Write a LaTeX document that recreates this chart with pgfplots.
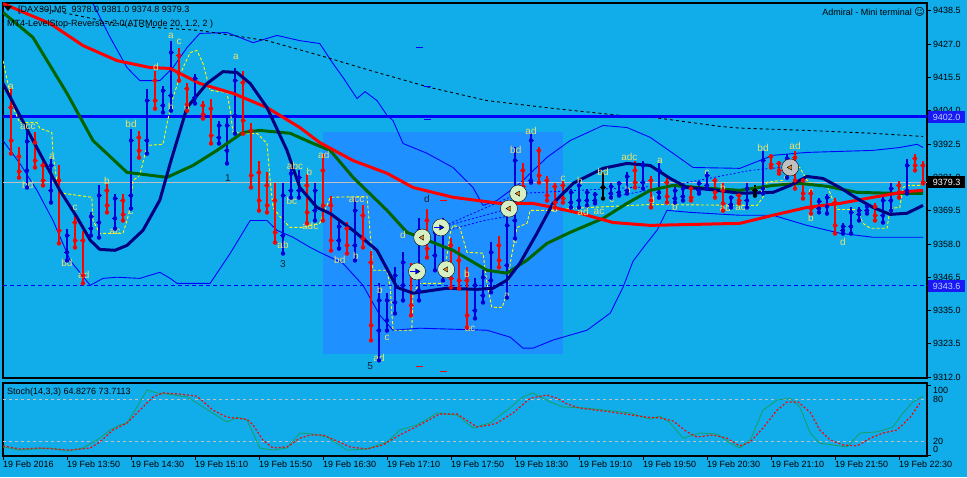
\documentclass[border=0pt]{standalone}
\usepackage{pgfplots}
\pgfplotsset{compat=1.18}
\usepackage{pgfplotstable}
\usepackage{fontspec}
\setmainfont{Liberation Sans}
\newfontfamily\djv{DejaVu Sans}

\definecolor{bg}{RGB}{17,173,234}
\definecolor{hbox}{RGB}{30,144,255}
\definecolor{barred}{RGB}{255,0,0}
\definecolor{barblue}{RGB}{0,0,215}
\definecolor{magreen}{RGB}{0,100,0}
\definecolor{manavy}{RGB}{0,0,128}
\definecolor{bband}{RGB}{0,0,255}
\definecolor{lsr}{RGB}{255,255,0}
\definecolor{ltr}{RGB}{236,226,110}
\definecolor{stg}{RGB}{20,160,110}
\definecolor{circ}{RGB}{214,240,196}
\definecolor{arr}{RGB}{225,140,35}
\definecolor{silv}{RGB}{192,192,192}
\definecolor{darktxt}{RGB}{20,30,50}
\definecolor{pbox}{RGB}{25,25,245}
\definecolor{pboxtxt}{RGB}{190,210,255}

\pgfplotstableread{
x o h l c
1 9405.1 9412.0 9389.2 9393.7
2 9388.2 9391.3 9380.9 9383.0
4 9393.0 9396.5 9384.4 9386.8
5 9385.1 9386.8 9378.2 9379.9
7 9379.9 9385.1 9358.2 9362.6
9 9365.4 9368.5 9356.8 9359.2
10 9359.2 9362.6 9344.4 9347.1
13 9376.4 9378.9 9368.9 9371.3
15 9373.0 9375.4 9366.1 9368.2
17 9394.7 9397.1 9387.8 9390.2
19 9414.4 9417.8 9404.7 9407.5
22 9423.0 9425.8 9414.4 9416.8
23 9411.6 9413.7 9404.0 9406.1
25 9405.8 9407.5 9401.3 9402.7
26 9404.7 9408.2 9392.7 9395.4
30 9413.7 9417.8 9396.1 9400.6
31 9397.1 9399.9 9377.5 9381.6
32 9382.7 9386.8 9369.5 9373.0
33 9378.2 9382.7 9368.9 9371.3
34 9373.0 9378.9 9358.5 9362.0
38 9378.2 9382.3 9365.1 9368.9
40 9383.4 9389.2 9366.1 9371.3
41 9371.3 9374.7 9355.7 9359.2
43 9363.3 9365.4 9354.7 9357.5
45 9367.8 9371.3 9356.8 9359.9
46 9351.6 9355.7 9324.7 9329.9
51 9348.8 9351.3 9333.3 9336.8
53 9366.1 9370.2 9353.3 9356.4
56 9357.5 9359.9 9343.0 9346.1
57 9352.3 9356.8 9342.6 9345.4
58 9345.4 9349.9 9329.2 9333.3
62 9357.5 9360.9 9349.9 9352.3
65 9383.4 9386.1 9375.4 9377.8
67 9390.2 9391.3 9379.2 9381.6
68 9379.9 9381.6 9373.0 9374.7
69 9377.8 9379.2 9370.6 9372.3
70 9378.2 9379.9 9372.3 9373.7
79 9383.4 9386.8 9377.5 9379.2
81 9379.9 9381.6 9370.6 9373.0
83 9379.2 9380.6 9372.3 9374.4
86 9377.1 9378.2 9373.0 9374.0
89 9379.9 9380.6 9374.0 9375.8
90 9376.4 9378.9 9369.5 9372.0
92 9374.7 9376.4 9372.0 9373.0
96 9388.2 9389.2 9384.4 9385.4
97 9385.8 9386.8 9382.3 9383.4
99 9387.8 9390.2 9377.1 9379.9
100 9379.9 9380.9 9373.7 9375.4
101 9375.4 9377.1 9368.5 9370.2
104 9372.3 9373.7 9361.6 9364.4
109 9370.9 9372.3 9366.1 9367.8
112 9378.2 9379.9 9374.0 9375.8
114 9387.5 9389.2 9383.4 9385.1
115 9385.1 9386.8 9378.9 9379.3
}\redbars

\pgfplotstableread{
x o h l c
3 9383.3 9397.1 9377.5 9393.4
6 9376.4 9387.8 9372.3 9385.1
8 9355.1 9363.3 9352.3 9360.9
11 9363.3 9368.9 9360.9 9367.5
12 9365.4 9378.2 9360.2 9374.7
14 9366.8 9375.4 9363.3 9373.7
16 9374.7 9397.8 9370.2 9393.7
18 9393.7 9411.6 9389.2 9407.5
20 9405.8 9412.7 9403.4 9410.9
21 9409.2 9428.2 9404.0 9424.1
24 9408.5 9416.8 9406.5 9415.1
27 9394.7 9400.6 9392.7 9398.9
28 9390.2 9402.3 9385.8 9398.9
29 9402.3 9418.9 9396.1 9414.4
35 9360.9 9378.9 9354.7 9374.7
36 9376.4 9384.4 9374.0 9382.3
37 9376.4 9383.4 9374.0 9380.9
39 9369.5 9378.9 9366.1 9376.4
42 9359.2 9366.1 9356.4 9364.0
44 9357.5 9374.0 9352.3 9369.5
47 9328.1 9344.4 9317.8 9338.5
48 9331.6 9340.9 9328.1 9338.5
49 9337.8 9349.9 9334.0 9347.1
50 9343.7 9355.1 9338.5 9351.6
52 9341.9 9366.8 9338.5 9362.6
54 9354.0 9363.7 9348.9 9362.0
55 9350.6 9367.1 9345.4 9362.6
59 9335.0 9346.4 9332.3 9343.7
60 9340.2 9348.9 9337.8 9346.4
61 9345.4 9358.5 9341.3 9355.1
63 9350.6 9367.8 9339.5 9364.4
64 9366.1 9391.3 9359.9 9386.8
66 9379.9 9396.1 9379.2 9393.7
71 9372.3 9377.1 9370.6 9375.8
72 9373.0 9379.9 9370.6 9378.2
73 9373.0 9377.1 9371.3 9375.8
74 9373.0 9375.8 9372.0 9375.1
76 9375.4 9378.9 9374.0 9377.8
77 9375.8 9379.9 9374.7 9378.9
78 9376.4 9382.7 9375.4 9381.3
80 9379.2 9386.8 9377.1 9385.1
82 9375.8 9386.1 9374.0 9383.4
84 9373.7 9377.5 9372.3 9376.4
85 9374.4 9378.2 9373.0 9377.1
87 9376.4 9379.9 9375.4 9378.9
88 9378.2 9382.7 9377.1 9381.6
91 9371.6 9374.7 9370.6 9374.0
93 9373.0 9378.9 9370.6 9377.1
95 9377.1 9390.2 9375.4 9386.8
98 9383.4 9389.2 9380.9 9387.5
102 9370.2 9373.7 9368.9 9372.7
103 9370.9 9375.4 9368.5 9374.0
105 9362.7 9365.1 9361.6 9364.0
106 9364.0 9370.6 9361.6 9368.9
107 9368.2 9370.6 9366.1 9369.5
108 9369.5 9372.0 9368.5 9370.9
110 9367.8 9374.7 9365.4 9373.0
111 9373.0 9378.9 9369.5 9377.1
113 9376.4 9387.5 9375.4 9385.1
}\bluebars

\pgfplotstableread{
x o h l c
75 9377.5 9382.7 9373.7 9377.5
94 9376.4 9378.2 9374.7 9376.4
}\blackbars

\newcommand{\ohlc}[2]{%
\addplot[only marks, mark=none, color=#2, forget plot, error bars/.cd, y dir=plus, y explicit, error mark=none, error bar style={draw=#2, line width=1.2pt}] table[x=x, y=l, y error expr=\thisrow{h}-\thisrow{l}] {#1};
\addplot[only marks, mark=none, color=#2, forget plot, error bars/.cd, x dir=minus, x fixed=0.4, error mark=none, error bar style={draw=#2, line width=1.2pt}] table[x=x, y=o] {#1};
\addplot[only marks, mark=none, color=#2, forget plot, error bars/.cd, x dir=plus, x fixed=0.4, error mark=none, error bar style={draw=#2, line width=1.2pt}] table[x=x, y=c] {#1};
}
\newcommand{\lbl}[3]{\node[text=ltr, font=\fontsize{10}{10}\selectfont, inner sep=0pt] at (axis cs:#1,#2) {#3};}
\newcommand{\dlbl}[3]{\node[text=darktxt, font=\fontsize{10}{10}\selectfont, inner sep=0pt] at (axis cs:#1,#2) {#3};}

\begin{document}
\begin{tikzpicture}[x=1pt,y=1pt]
\fill[bg] (0,0) rectangle (967,477);
\useasboundingbox (0,0) rectangle (967,477);

% ---------------- main price panel ----------------
\begin{axis}[
  at={(3pt,99pt)}, anchor=south west, scale only axis,
  width=924pt, height=375pt,
  xmin=0, xmax=115.5, ymin=9311.7, ymax=9441.2,
  axis line style={black, line width=1.2pt},
  xtick=\empty,
  ytick={9312.0,9323.5,9335.0,9346.5,9358.0,9369.5,9381.0,9392.5,9404.0,9415.5,9427.0,9438.5},
  ytick pos=right, yticklabel pos=right,
  tick align=outside, major tick length=4pt,
  tick style={black, line width=0.8pt},
  yticklabel style={font=\fontsize{9}{10}\selectfont, text=black, inner sep=2pt,
    /pgf/number format/.cd, fixed, fixed zerofill, precision=1, 1000 sep={}, assume math mode=true},
  every axis plot/.append style={line join=round},
]
% highlighted region
\fill[hbox] (axis cs:40,9396.5) rectangle (axis cs:70,9320.1);

% Bollinger bands
\addplot[bband, line width=0.9pt] coordinates {
(11.25,9441.0) (13.4,9429.3) (15.5,9418.9) (17.1,9414.4) (19.6,9414.4) (21.25,9418.9) (23,9425.8) (24.6,9430.7) (28,9431.0) (29.6,9429.3) (31.25,9427.5) (34.25,9430.0) (37.1,9428.2) (39.6,9427.2) (41.25,9420.3) (42.5,9415.5) (44.25,9408.2) (45.25,9410.6) (46.75,9407.5) (48,9402.4) (48.75,9400.6) (50,9392.7) (53,9389.3) (56.25,9384.4) (58.75,9377.5) (60,9371.3) (61.75,9373.0) (64.6,9378.9) (68,9387.9) (70.9,9393.7) (75,9398.9) (78,9398.2) (80.9,9394.8) (83.75,9389.3) (86.25,9384.4) (92.1,9384.1) (96.25,9388.6) (100.5,9389.6) (108.75,9390.3) (112.1,9391.3) (114.25,9392.4) (115,9391.3)};
\addplot[bband, line width=0.9pt] coordinates {
(0,9393.7) (2.1,9385.8) (4.25,9376.5) (6.25,9366.1) (8.4,9352.3) (10.9,9343.7) (12.5,9346.1) (14.25,9346.5) (17.1,9346.1) (19.6,9348.2) (20.9,9346.1) (21.75,9344.4) (25.9,9344.4) (28.4,9354.75) (30.9,9366.1) (33,9366.1) (34.25,9362.7) (36.25,9360.3) (38.4,9356.8) (39.6,9355.1) (42.5,9351.3) (45,9343.7) (47.1,9333.4) (48.75,9328.2) (52.1,9328.9) (60.5,9328.2) (63.4,9325.8) (65,9322.0) (66.25,9322.0) (68.75,9324.8) (73,9328.2) (75.9,9334.1) (77.5,9343.0) (78.75,9352.0) (80.25,9357.5) (81.75,9362.7) (83,9369.6) (85.9,9368.9) (92.1,9367.9) (96.25,9367.9) (100.5,9364.4) (104.6,9361.7) (108.75,9360.3) (115,9360.3)};

% long moving average (black dashed)
\addplot[black, line width=0.9pt, dash pattern=on 3pt off 3pt] coordinates {
(4.6,9439.3) (8,9437.6) (15.5,9433.4) (24.6,9431.7) (33,9428.2) (39.6,9423.1) (45.9,9417.9) (53.4,9412.0) (60.5,9407.5) (68.75,9404.8) (77.1,9402.4) (81.25,9401.7) (89.6,9398.6) (92.1,9398.0) (100.5,9397.2) (108.75,9396.2) (115,9395.1)};

% horizontal levels
\addplot[silv, line width=1pt] coordinates {(0,9379.3) (115.5,9379.3)};
\addplot[bband, line width=2.6pt] coordinates {(0,9402.0) (115.5,9402.0)};
\addplot[bband, line width=1pt, dash pattern=on 4pt off 3pt] coordinates {(0,9343.6) (115.5,9343.6)};

% LevelStop-Reverse line (yellow dashed)
\addplot[lsr, line width=0.9pt, dash pattern=on 3pt off 2pt] coordinates {
(0,9421.3) (1.25,9405.1) (2.1,9399.9) (4.25,9399.9) (4.6,9397.9) (6.1,9396.5) (6.25,9389.3) (6.9,9376.5) (7.5,9375.5) (9.25,9374.8) (11.1,9374.1) (11.25,9366.1) (12.1,9361.65) (15,9361.65) (15.5,9366.1) (15.9,9370.6) (16.25,9379.9) (17.1,9381.7) (18,9392.0) (20,9392.4) (20.5,9399.6) (21.25,9408.6) (22.5,9418.9) (23.4,9424.1) (24.25,9424.8) (25,9420.3) (25.9,9411.0) (28,9410.3) (28.4,9404.1) (28.75,9396.5) (30.5,9396.2) (31.75,9396.2) (33,9392.7) (33.4,9380.0) (33.75,9370.6) (35,9366.1) (35.9,9363.7) (37.5,9363.7) (39.6,9365.1) (40.9,9374.1) (45.5,9374.4) (45.9,9361.65) (46.25,9348.9) (48,9348.9) (48.4,9343.0) (48.75,9328.2) (51.1,9328.2) (51.25,9341.0) (52.1,9344.4) (55,9344.4) (55.9,9361.65) (56.25,9364.4) (57.1,9363.7) (58,9355.1) (60,9354.8) (60.5,9344.4) (61.1,9336.1) (62.4,9336.1) (63,9341.0) (63.4,9351.3) (64.25,9363.7) (65.5,9365.1) (65.9,9369.6) (68.75,9369.6) (71.25,9370.3) (80.9,9371.6) (94.25,9371.3) (95,9374.1) (95.5,9379.3) (97.5,9380.0) (98.4,9384.4) (99.6,9384.4) (100.5,9380.0) (101.25,9378.2) (103,9378.2) (103.75,9373.0) (104.25,9369.9) (106.75,9369.9) (107.5,9365.1) (108.4,9363.4) (110.5,9363.4) (110.9,9370.3) (112.1,9370.6) (112.5,9377.5) (113,9378.2) (115,9378.2)};

% OHLC bars
\ohlc{\redbars}{barred}
\ohlc{\bluebars}{barblue}
\ohlc{\blackbars}{black}

% connecting dashed lines
\addplot[bband, line width=0.8pt, dash pattern=on 2pt off 2pt] coordinates {(54.75,9363.7) (63.25,9370.2)};
\addplot[bband, line width=0.8pt, dash pattern=on 2pt off 2pt] coordinates {(54.75,9363.7) (64.4,9375.4)};
\addplot[bband, line width=0.8pt, dash pattern=on 2pt off 2pt] coordinates {(54.75,9362.0) (60.0,9366.0) (64.0,9368.0)};
\addplot[bband, line width=0.8pt, dash pattern=on 2pt off 2pt] coordinates {(64.4,9375.4) (80.9,9377.8)};
\addplot[bband, line width=0.8pt, dash pattern=on 2pt off 2pt] coordinates {(77.1,9374.7) (93.4,9383.4) (98.4,9384.7)};

% moving averages
\addplot[magreen, line width=3pt] coordinates {
(0,9437.9) (3.75,9429.3) (8,9410.0) (11.25,9393.7) (15.5,9382.7) (20.5,9381.0) (23.75,9385.1) (26.75,9390.3) (30,9396.5) (32.1,9397.2) (35.9,9396.2) (38.75,9392.7) (40.9,9390.3) (43.75,9381.0) (48,9369.6) (50.5,9362.0) (53.75,9358.5) (56.25,9355.8) (60.5,9348.9) (63,9347.9) (65.5,9352.4) (68,9358.2) (70.9,9362.0) (75,9366.8) (78,9372.0) (80.9,9376.5) (83.75,9378.2) (88,9377.2) (92.1,9376.5) (96.25,9378.2) (99.6,9378.9) (103,9377.9) (106.75,9375.8) (110.9,9375.5) (115,9375.5)};
\addplot[barred, line width=3pt] coordinates {
(0,9441.0) (5.9,9434.1) (10,9426.5) (14.25,9421.3) (18.4,9418.9) (20.9,9418.6) (24.6,9413.4) (28.75,9410.0) (33,9405.1) (37.1,9398.2) (39.6,9393.0) (43.75,9386.8) (48,9382.4) (51.25,9377.5) (56.25,9374.1) (62.1,9372.0) (66.25,9372.0) (68.75,9370.6) (72.1,9368.6) (76.25,9365.4) (80.9,9364.4) (92.1,9365.1) (96.25,9367.9) (100.5,9370.6) (104.6,9372.0) (108.75,9374.1) (113,9376.1) (115,9376.5)};
\addplot[manavy, line width=3pt] coordinates {
(0,9413.4) (3.75,9393.7) (7.1,9376.5) (9.25,9367.2) (10.9,9359.3) (12.1,9356.1) (14,9355.8) (15.5,9357.5) (17.5,9362.7) (19.6,9373.1) (20.9,9385.8) (23,9405.1) (25.5,9413.4) (27.5,9417.5) (29.25,9417.2) (30.9,9413.4) (33,9405.1) (35.5,9390.3) (37.1,9377.5) (39.25,9370.6) (40.9,9368.5) (43.75,9362.7) (46.75,9355.8) (49.25,9343.0) (51.25,9341.0) (55.5,9342.7) (59.25,9342.3) (61.25,9342.7) (63,9345.5) (64.6,9351.3) (66.75,9361.7) (68.75,9372.0) (71.25,9378.9) (75,9384.1) (78,9385.8) (80.9,9385.1) (83.4,9380.6) (85.5,9377.5) (88.4,9376.8) (92.1,9375.5) (96.25,9375.8) (98.4,9378.2) (100.5,9381.3) (102.5,9380.6) (104.6,9377.5) (106.75,9373.7) (108.75,9370.6) (110.9,9368.2) (113,9368.6) (115,9371.3)};

% signal circles
\addplot[only marks, mark=*, mark size=8.5pt, mark options={draw=none, fill=circ}] coordinates {
(52.4,9360.2) (54.75,9363.7) (51.75,9348.5) (55.4,9349.2) (64.4,9375.4) (63.25,9370.2)};
\addplot[only marks, mark=*, mark size=8.5pt, mark options={draw=none, fill=silv}] coordinates {(98.4,9384.4)};
\addplot[only marks, mark=triangle*, mark size=3pt, mark options={draw=none, fill=arr, rotate=90}] coordinates {
(52.4,9360.2) (55.4,9349.2) (64.4,9375.4) (63.25,9370.2) (98.4,9384.4)};
\addplot[only marks, mark=triangle*, mark size=3pt, mark options={draw=none, fill=bband, rotate=-90}] coordinates {
(54.75,9363.7) (51.75,9348.5)};
\addplot[only marks, mark=-, mark size=3pt, mark options={bband, line width=1.2pt}] coordinates {
(54.3,9363.7) (51.3,9348.5)};

% small level dashes
\addplot[only marks, mark=-, mark size=3.5pt, mark options={bband, line width=1.2pt}] coordinates {
(52.1,9425.8) (53.1,9412.3) (53.1,9401.0)};
\addplot[only marks, mark=-, mark size=3.5pt, mark options={barred, line width=1.2pt}] coordinates {
(52.0,9315.7) (55.1,9314.0) (55.0,9373.0)};

% pattern letters
\lbl{1}{9412.1}{a}
\lbl{3.1}{9398.3}{acc}
\lbl{3.1}{9378.5}{bd}
\lbl{6.1}{9388.2}{a}
\lbl{9}{9370.6}{c}
\lbl{8}{9351.5}{bd}
\lbl{10.1}{9347.4}{ad}
\lbl{13}{9379.9}{b}
\lbl{14}{9362.3}{ac}
\lbl{16}{9369.2}{c}
\lbl{16}{9399.6}{bd}
\lbl{19.1}{9419.0}{d}
\lbl{21}{9429.7}{a}
\lbl{22}{9427.7}{c}
\lbl{21}{9405.2}{b}
\lbl{23}{9405.2}{d}
\lbl{29.1}{9422.5}{a}
\lbl{40.1}{9388.9}{ad}
\lbl{36.5}{9384.8}{abc}
\lbl{38.3}{9383.0}{b}
\lbl{36.1}{9373.0}{bc}
\lbl{38.4}{9364.3}{adc}
\lbl{35}{9357.8}{ab}
\lbl{44.2}{9373.3}{acc}
\lbl{42.1}{9352.6}{bd}
\lbl{44.1}{9354.0}{b}
\lbl{47.1}{9342.2}{b}
\lbl{48}{9325.6}{c}
\lbl{47}{9318.7}{ad}
\lbl{50}{9361.2}{d}
\lbl{58}{9347.7}{b}
\lbl{58.4}{9328.7}{ac}
\lbl{63}{9340.1}{a}
\lbl{64}{9359.2}{c}
\lbl{64.1}{9390.6}{bd}
\lbl{66}{9396.9}{ad}
\lbl{70}{9380.3}{c}
\lbl{69}{9370.2}{b}
\lbl{72.5}{9369.2}{ad}
\lbl{74.5}{9369.2}{ac}
\lbl{72.1}{9379.6}{b}
\lbl{75}{9382.7}{bd}
\lbl{76.1}{9373.3}{c}
\lbl{78.3}{9387.9}{adc}
\lbl{78.1}{9376.8}{b}
\lbl{82.1}{9386.8}{a}
\lbl{81.1}{9373.3}{d}
\lbl{84}{9370.9}{b}
\lbl{88}{9382.7}{c}
\lbl{90}{9377.5}{b}
\lbl{90.3}{9370.6}{ad}
\lbl{92.2}{9370.6}{ac}
\lbl{95}{9391.3}{bd}
\lbl{95}{9376.1}{c}
\lbl{99}{9392.0}{ad}
\lbl{101}{9376.1}{c}
\lbl{101}{9367.1}{b}
\lbl{105}{9358.8}{d}
\dlbl{28.1}{9380.6}{1}
\dlbl{35}{9351.2}{3}
\dlbl{45.9}{9315.9}{5}
\dlbl{53}{9373.7}{d}
\end{axis}

% ---------------- stochastic panel ----------------
\begin{axis}[
  at={(3pt,21pt)}, anchor=south west, scale only axis,
  width=924pt, height=73pt,
  xmin=0, xmax=115.5, ymin=-1.43, ymax=102.86,
  axis line style={black, line width=1.2pt},
  xtick={0,8,16,24,32,40,48,56,64,72,80,88,96,104,112},
  xticklabels={19 Feb 2016, 19 Feb 13:50, 19 Feb 14:30, 19 Feb 15:10, 19 Feb 15:50, 19 Feb 16:30, 19 Feb 17:10, 19 Feb 17:50, 19 Feb 18:30, 19 Feb 19:10, 19 Feb 19:50, 19 Feb 20:30, 19 Feb 21:10, 19 Feb 21:50, 19 Feb 22:30},
  xtick pos=left, ytick pos=right,
  ytick={0,100}, yticklabels={},
  tick align=outside, major tick length=4pt,
  tick style={black, line width=0.8pt},
  xticklabel style={anchor=north west, inner sep=0pt, yshift=-1pt, font=\fontsize{9}{10}\selectfont, text=black},
  every axis plot/.append style={line join=round},
]
\addplot[silv, line width=0.8pt, dash pattern=on 3pt off 3pt] coordinates {(0,80) (115.5,80)};
\addplot[silv, line width=0.8pt, dash pattern=on 3pt off 3pt] coordinates {(0,20) (115.5,20)};
\addplot[stg, line width=0.9pt] coordinates {
(0,11.4) (2.1,7) (5.9,10) (8,5.7) (10,10) (11.75,21.4) (13.4,35.7) (14.6,43) (15.5,45.7) (16.75,68.6) (18,93) (19.25,88.6) (20.5,87) (23,83) (25,68.6) (28,47) (29.25,54) (30.5,50) (32.1,10) (33.75,7) (35.5,10) (37.1,31.4) (38.75,30) (40.5,25.7) (43,7) (45.5,8.6) (48,18.6) (49.6,35.7) (51.75,43) (54.25,60) (56.75,57) (58.75,38.6) (60.9,46) (63,64) (65,83) (66.25,88.6) (68.4,75.7) (70,68.6) (73,67) (78.4,60) (80.9,51) (82.1,55.7) (83.4,45.7) (85,24) (87.1,31.4) (89.25,30) (90.9,17) (92.1,10) (93.4,21.4) (95,64) (96.75,78.6) (98.4,81) (99.6,68.6) (100.9,31.4) (102.1,17) (103.75,14.3) (105.5,11.4) (107.1,31.4) (109.25,33) (111.25,40) (112.5,60) (113.75,75.7) (115,84)};
\addplot[barred, line width=1.2pt, dash pattern=on 2pt off 2pt] coordinates {
(0,12.9) (2.1,8.6) (4.6,10) (8.4,7) (10.9,10) (12.1,18.6) (13.75,35.7) (15.5,45.7) (17.1,64) (18.75,83) (20,88.6) (22.1,87) (24.25,84) (26.25,64) (28,54) (30.5,51) (31.25,43) (32.5,21) (33.75,10) (35.5,11.4) (37.1,24) (38.4,28.6) (40,28.6) (41.75,20) (43.4,11.4) (45.5,8.6) (47.5,14.3) (49.6,28.6) (52.1,43) (54.6,58.6) (56.75,58.6) (59.25,40) (60.9,43) (61.75,45.7) (63.75,60) (65.9,81) (68,85.7) (69.25,81) (70.5,73) (72.1,67) (76.25,61) (80.5,54) (82.1,53) (83.75,48.6) (85.5,33) (86.75,25.7) (88.75,28.6) (90.5,24) (92.1,12.9) (93.4,18.6) (95,38.6) (96.75,64) (98,75.7) (99.4,75.7) (100.9,61) (102.1,35.7) (103.4,21.4) (105,14.3) (106.75,12.9) (108.4,24) (110,31.4) (111.75,35.7) (113.4,54) (114.6,74)};
\end{axis}

% ---------------- texts ----------------
\fill[black] (4,471) -- (12,471) -- (8,466) -- cycle;
\node[anchor=west, inner sep=0pt, font=\fontsize{9}{10}\selectfont, text=black] at (18,467) {[DAX30],M5\ \ 9378.0 9381.0 9374.8 9379.3};
\node[anchor=west, inner sep=0pt, font=\fontsize{9}{10}\selectfont, text=black] at (7,453) {MT4-LevelStop-Reverse-v2.0(ATRMode 20, 1.2, 2 )};
\node[anchor=east, inner sep=0pt, font=\fontsize{9}{10}\selectfont, text=black] at (925,465) {Admiral - Mini terminal {\djv\fontsize{10}{10}\selectfont ☺}};
\node[anchor=west, inner sep=0pt, font=\fontsize{9}{10}\selectfont, text=black] at (7,85) {Stoch(14,3,3) 64.8276 73.7113};

% price boxes
\node[anchor=west, fill=pbox, text=pboxtxt, inner sep=0pt, minimum width=37pt, minimum height=12pt, font=\fontsize{9}{10}\selectfont] at (928,360) {9402.0};
\node[anchor=west, fill=black, text=white, inner sep=0pt, minimum width=37pt, minimum height=12pt, font=\fontsize{9}{10}\selectfont] at (928,295) {9379.3};
\node[anchor=west, fill=pbox, text=pboxtxt, inner sep=0pt, minimum width=37pt, minimum height=12pt, font=\fontsize{9}{10}\selectfont] at (928,191) {9343.6};

% stochastic scale labels
\node[anchor=west, inner sep=0pt, font=\fontsize{9}{10}\selectfont, text=black] at (933,87) {100};
\node[anchor=west, inner sep=0pt, font=\fontsize{9}{10}\selectfont, text=black] at (933,78) {80};
\node[anchor=west, inner sep=0pt, font=\fontsize{9}{10}\selectfont, text=black] at (933,36) {20};
\node[anchor=west, inner sep=0pt, font=\fontsize{9}{10}\selectfont, text=black] at (933,28) {0};
\end{tikzpicture}
\end{document}
